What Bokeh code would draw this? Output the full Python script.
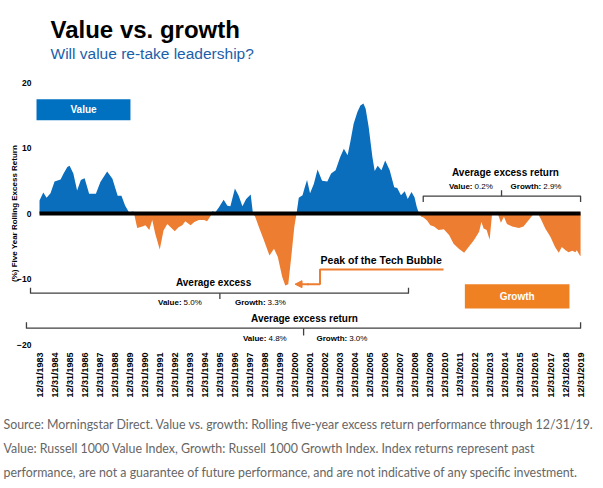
import numpy as np
from bokeh.plotting import figure
from bokeh.layouts import column
from bokeh.models import Range1d, FixedTicker, Label, Arrow, NormalHead, Title
from bokeh.core.properties import value
from bokeh.embed import file_html
from bokeh.resources import INLINE

# Rolling five-year excess return of value over growth (%), by year-end date
years = [1983.0, 1983.25, 1983.47, 1983.73, 1984.0, 1984.4, 1984.6, 1984.85, 1985.0, 1985.25,
         1985.5, 1985.75, 1986.0, 1986.3, 1986.75, 1987.05, 1987.5, 1987.85, 1988.2, 1988.45,
         1988.7, 1988.95, 1989.25, 1989.3, 1989.5, 1989.85, 1990.05, 1990.3, 1990.5, 1990.7,
         1991.0, 1991.25, 1991.5, 1992.0, 1992.25, 1992.5, 1992.7, 1993.05, 1993.3, 1993.6,
         1993.95, 1994.15, 1994.4, 1994.5, 1994.7, 1994.95, 1995.25, 1995.5, 1995.7, 1996.0,
         1996.25, 1996.5, 1996.75, 1997.05, 1997.2, 1997.35, 1997.6, 1997.9, 1998.3, 1998.6,
         1998.85, 1999.15, 1999.35, 1999.55, 1999.75, 1999.95, 2000.1, 2000.25, 2000.5, 2000.65,
         2000.8, 2001.0, 2001.25, 2001.5, 2001.8, 2002.15, 2002.4, 2002.7, 2003.0, 2003.25,
         2003.5, 2003.7, 2003.9, 2004.15, 2004.35, 2004.55, 2004.7, 2004.9, 2005.15, 2005.3,
         2005.5, 2005.75, 2006.0, 2006.3, 2006.6, 2006.8, 2007.05, 2007.3, 2007.5, 2007.75,
         2007.95, 2008.1, 2008.25, 2008.4, 2008.55, 2008.8, 2009.0, 2009.25, 2009.55, 2009.9,
         2010.25, 2010.55, 2010.9, 2011.25, 2011.55, 2011.9, 2012.25, 2012.4, 2012.55, 2012.75,
         2012.95, 2013.1, 2013.3, 2013.5, 2013.7, 2013.9, 2014.1, 2014.45, 2014.9, 2015.2,
         2015.55, 2015.9, 2016.0, 2016.15, 2016.35, 2016.65, 2017.0, 2017.3, 2017.55, 2017.75,
         2018.0, 2018.2, 2018.45, 2018.65, 2018.75, 2018.95, 2019.0]
excess = [2.0, 3.2, 2.4, 3.1, 4.9, 5.2, 6.1, 7.1, 7.3, 6.1,
          3.5, 5.1, 5.4, 3.0, 3.0, 4.8, 6.4, 5.3, 2.7, 2.7,
          1.2, 0.2, 0.3, -0.1, -2.2, -2.0, -1.8, -2.5, -1.0, -3.1,
          -5.5, -2.6, -1.6, -2.7, -2.1, -1.8, -1.2, -1.8, -1.3, -1.0,
          -1.0, -1.2, -0.3, 0.35, 0.2, 1.0, 2.1, 1.2, 1.1, 3.8,
          2.7, 1.1, 2.2, 2.9, 0.0, -0.5, -2.1, -3.9, -6.4, -5.4,
          -6.6, -9.7, -11.0, -10.8, -6.6, -2.1, 0.0, 2.4, 2.8, 4.0,
          5.1, 3.1, 4.5, 6.7, 5.0, 4.9, 6.1, 6.6, 8.6, 9.9,
          8.9, 11.2, 13.7, 15.5, 16.5, 16.8, 16.0, 13.2, 8.6, 6.5,
          7.3, 6.6, 8.1, 6.6, 4.0, 3.9, 2.8, 3.4, 2.2, 3.3,
          2.5, 1.0, 0.0, -0.5, -0.6, -1.1, -1.8, -2.0, -2.5, -2.4,
          -3.3, -4.6, -5.4, -6.0, -5.1, -4.1, -2.8, -1.3, -2.3, -2.5,
          -4.0, -0.3, 0.0, -0.1, -1.4, -0.5, -1.6, -2.0, -2.2, -2.0,
          -1.0, 0.0, 0.15, 0.0, -0.8, -2.3, -3.6, -5.1, -6.0, -5.1,
          -5.6, -5.9, -5.7, -5.9, -5.6, -6.4, -6.5]

tick_years = list(range(1983, 2020))
tick_labels = {yr: f"12/31/{yr}" for yr in tick_years}
y_ticks = [-20, -10, 0, 10, 20]

# Average excess returns for the three highlighted periods
periods = ["1983-2007", "1983-2019", "2008-2019"]
avg_value = [5.0, 4.8, 0.2]
avg_growth = [3.3, 3.0, 2.9]

heading = "Value vs. growth"
subheading = "Will value re-take leadership?"
footnote = [
    "Source: Morningstar Direct. Value vs. growth: Rolling five-year excess return performance through 12/31/19.",
    "Value: Russell 1000 Value Index, Growth: Russell 1000 Growth Index. Index returns represent past",
    "performance, are not a guarantee of future performance, and are not indicative of any specific investment.",
]

VALUE_BLUE = "#0A6EBD"
BOX_BLUE = "#0070C0"
GROWTH_ORANGE = "#ED7D31"
BOX_ORANGE = "#F08123"
BRACKET = "#404040"
SANS = "Liberation Sans"
W = 603
LEFT, RIGHT = 24, 13   # frame insets shared by every panel of the page


def text_panel(height):
    """An axis-free figure whose coordinates are page pixels (y downward)."""
    f = figure(width=W, height=height, output_backend="svg", toolbar_location=None,
               title=None, x_range=Range1d(LEFT, W - RIGHT), y_range=Range1d(height, 0),
               x_axis_type=None, y_axis_type=None,
               min_border_left=LEFT, min_border_right=RIGHT,
               min_border_top=0, min_border_bottom=0)
    f.outline_line_color = None
    f.grid.visible = False
    return f


# --- headings ---
top = text_panel(70)
top.text(x=[50], y=[29], text=[heading], text_font=value(SANS), text_font_size="24px",
         text_font_style="bold", text_color="black", text_baseline="alphabetic")
top.text(x=[50], y=[53], text=[subheading], text_font=value(SANS), text_font_size="15.5px",
         text_color="#1B5FAA", text_baseline="alphabetic")

# --- main chart ---
p = figure(width=W, height=342, output_backend="svg", toolbar_location=None,
           x_range=Range1d(1982.0, 2019.66), y_range=Range1d(-20, 20),
           min_border_left=LEFT, min_border_right=RIGHT, min_border_top=12,
           min_border_bottom=68)
p.outline_line_color = None
p.grid.visible = False

p.xaxis.ticker = FixedTicker(ticks=tick_years)
p.xaxis.major_label_overrides = tick_labels
p.xaxis.major_label_orientation = np.pi / 2
p.xaxis.major_label_standoff = 8
p.xaxis.major_label_text_font = SANS
p.xaxis.major_label_text_font_size = "9px"
p.xaxis.major_label_text_font_style = "bold"
p.xaxis.major_label_text_color = "black"

p.yaxis.ticker = FixedTicker(ticks=y_ticks)
p.yaxis.major_label_standoff = -7
p.yaxis.major_label_text_font = SANS
p.yaxis.major_label_text_font_size = "8.5px"
p.yaxis.major_label_text_font_style = "bold"
p.yaxis.major_label_text_color = "black"
p.yaxis.axis_label = "(%) Five Year Rolling Excess Return"
p.yaxis.axis_label_text_font = SANS
p.yaxis.axis_label_text_font_size = "8px"
p.yaxis.axis_label_text_font_style = "bold"
p.yaxis.axis_label_text_color = "black"
p.yaxis.axis_label_standoff = -5

for ax in (p.xaxis, p.yaxis):
    ax.axis_line_color = None
    ax.major_tick_line_color = None
    ax.minor_tick_line_color = None
    ax.major_tick_out = 0
    ax.major_tick_in = 0

# split the series at zero crossings so each side fills cleanly
x = np.asarray(years, dtype=float)
v = np.asarray(excess, dtype=float)
xs, vs = [x[0]], [v[0]]
for i in range(1, len(x)):
    a, b = v[i - 1], v[i]
    if a * b < 0:
        t = a / (a - b)
        xs.append(x[i - 1] + t * (x[i] - x[i - 1]))
        vs.append(0.0)
    xs.append(x[i])
    vs.append(b)
xs = np.array(xs)
vs = np.array(vs)

p.varea(x=xs, y1=0, y2=np.maximum(vs, 0), fill_color=VALUE_BLUE)
p.varea(x=xs, y1=0, y2=np.minimum(vs, 0), fill_color=GROWTH_ORANGE)
p.segment(x0=[years[0]], x1=[years[-1]], y0=[0], y1=[0], line_color="black", line_width=4)


def text(x, y, s, size, bold=False, align="left", color="black", x_offset=0):
    p.add_layout(Label(x=x, y=y, text=s, text_font=SANS, text_font_size=size,
                       text_font_style="bold" if bold else "normal",
                       text_align=align, text_baseline="middle", text_color=color,
                       x_offset=x_offset))


def bracket(x0, x1, xm, y, tip, mid):
    p.line(x=[x0, x0, x1, x1], y=[y + tip, y, y, y + tip], line_color=BRACKET,
           line_width=1.3, line_join="round")
    p.segment(x0=[xm], x1=[xm], y0=[y], y1=[y + mid], line_color=BRACKET, line_width=1.3)


def averages(i, xv, xg, y):
    text(xv, y, "Value:", "8px", bold=True, align="right")
    text(xv, y, f"{avg_value[i]:.1f}%", "8px", x_offset=2)
    text(xg, y, "Growth:", "8px", bold=True, align="right")
    text(xg, y, f"{avg_growth[i]:.1f}%", "8px", x_offset=2)


# 1983-2007 bracket
bracket(1982.4, 2007.55, 1995.0, -12.17, 0.85, -0.9)
text(1994.58, -10.58, "Average excess", "10px", bold=True, align="center")
averages(0, 1992.45, 1998.04, -13.54)

# full period bracket
bracket(1982.13, 2019.0, 2000.57, -17.51, 0.9, -1.1)
text(2000.63, -15.98, "Average excess return", "10px", bold=True, align="center")
averages(1, 1998.1, 2003.47, -19.04)

# 2008-2019 bracket
bracket(2008.53, 2019.0, 2013.74, 2.64, -0.87, 0.92)
text(2014.0, 6.2, "Average excess return", "10px", bold=True, align="center")
averages(2, 2011.81, 2016.38, 4.17)

# legend boxes
p.quad(left=[1982.8], right=[1989.05], top=[17.45], bottom=[14.24],
       fill_color=BOX_BLUE, line_color=None)
text(1985.93, 15.85, "Value", "10px", bold=True, align="center", color="white")
p.quad(left=[2011.3], right=[2018.26], top=[-10.79], bottom=[-14.5],
       fill_color=BOX_ORANGE, line_color=None)
text(2014.78, -12.65, "Growth", "10px", bold=True, align="center", color="white")

# tech bubble callout
text(2001.7, -7.13, "Peak of the Tech Bubble", "10.5px", bold=True)
p.line(x=[2009.88, 2001.66, 2001.66, 2000.8], y=[-8.55, -8.55, -10.79, -10.79],
       line_color=GROWTH_ORANGE, line_width=2)
p.add_layout(Arrow(x_start=2000.9, y_start=-10.79, x_end=2000.0, y_end=-10.79,
                   line_color=GROWTH_ORANGE, line_width=2,
                   end=NormalHead(size=7, fill_color=GROWTH_ORANGE,
                                  line_color=GROWTH_ORANGE)))

# --- source notes: titles stacked above a thin empty frame, outermost line first ---
bottom = text_panel(82)
for line in reversed(footnote):
    bottom.add_layout(Title(text=line, align="left", offset=3 - LEFT, vertical_align="middle",
                            standoff=7, text_font="Lato", text_font_size="12.4px",
                            text_font_style="normal", text_color="#666666"), "above")

page = column(top, p, bottom, spacing=0)
open("out.html", "w").write(file_html(page, INLINE))
